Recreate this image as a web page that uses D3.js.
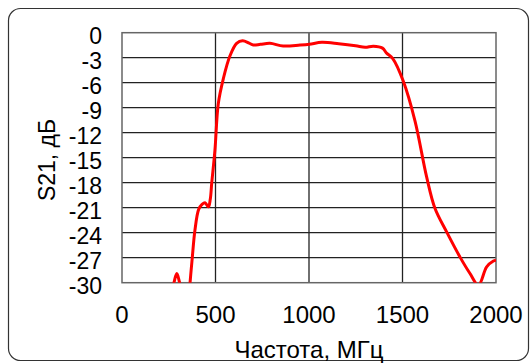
<!DOCTYPE html>
<html>
<head>
<meta charset="utf-8">
<script src="https://cdn.jsdelivr.net/npm/d3@7"></script>
<style>
  html, body { margin: 0; padding: 0; background: #fff; }
  svg { display: block; }
  text { font-family: "Liberation Sans", Arial, sans-serif; fill: #000; }
</style>
</head>
<body>
<svg id="chart" width="531" height="364"></svg>
<script>
// Frequency sweep (MHz) and measured transmission S21 (dB)
const freqMHz = [250, 265, 280, 293, 306, 322, 340, 355, 364, 375, 390, 410, 428, 444, 462, 472, 480,
  497, 515, 542, 577, 613, 645, 680, 702, 740, 791, 862, 952, 1002, 1069, 1159, 1249, 1300, 1344,
  1393, 1415, 1448, 1504, 1567, 1629, 1674, 1736, 1807, 1861, 1906, 1950, 1986, 2000];
const s21dB = [-33, -31.5, -29.8, -28.9, -29.8, -31.5, -34, -33, -30, -27.2, -23.7, -21.2, -20.6, -20.4, -20.9, -20, -18,
  -14.1, -8.5, -5.5, -2.8, -1.28, -0.96, -1.25, -1.48, -1.4, -1.28, -1.6, -1.48, -1.38, -1.16, -1.32, -1.56, -1.75, -1.62,
  -1.85, -2.45, -3.1, -5.8, -10.6, -17.3, -21.1, -23.9, -26.9, -28.9, -30.3, -28.1, -27.4, -27.3];

const xTicks = [0, 500, 1000, 1500, 2000];
const yTicks = [0, -3, -6, -9, -12, -15, -18, -21, -24, -27, -30];
const xTitle = "Частота, МГц";
const yTitle = "S21, дБ";

const svg = d3.select("#chart");
const plot = { left: 122, right: 496, top: 32.7, bottom: 282.7 };

const x = d3.scaleLinear().domain([0, 2000]).range([plot.left, plot.right]);
const y = d3.scaleLinear().domain([-30, 0]).range([plot.bottom, plot.top]);

// outer rounded frame
svg.append("rect")
  .attr("x", 8.5).attr("y", 8.5)
  .attr("width", 520).attr("height", 352)
  .attr("rx", 12).attr("ry", 12)
  .attr("fill", "none").attr("stroke", "#333").attr("stroke-width", 1.2);

// grid
const grid = svg.append("g");
grid.selectAll("line.h").data(yTicks.slice(1, -1)).join("line")
  .attr("x1", plot.left).attr("x2", plot.right)
  .attr("y1", d => y(d)).attr("y2", d => y(d))
  .attr("stroke", "#222").attr("stroke-width", 1.3);
grid.selectAll("line.v").data(xTicks.slice(1, -1)).join("line")
  .attr("y1", plot.top).attr("y2", plot.bottom)
  .attr("x1", d => x(d)).attr("x2", d => x(d))
  .attr("stroke", "#222").attr("stroke-width", 1.3);

// plot border
svg.append("rect")
  .attr("x", plot.left).attr("y", plot.top)
  .attr("width", plot.right - plot.left).attr("height", plot.bottom - plot.top)
  .attr("fill", "none").attr("stroke", "#666").attr("stroke-width", 1.5);

// y tick labels
svg.append("g").selectAll("text").data(yTicks).join("text")
  .attr("x", 102).attr("y", d => y(d) + 3)
  .attr("text-anchor", "end").attr("dominant-baseline", "central")
  .attr("font-size", 23)
  .text(d => d);

// x tick labels
svg.append("g").selectAll("text").data(xTicks).join("text")
  .attr("x", d => x(d)).attr("y", 323)
  .attr("text-anchor", "middle")
  .attr("font-size", 24)
  .text(d => d);

// axis titles
svg.append("text")
  .attr("x", 309).attr("y", 358)
  .attr("text-anchor", "middle").attr("font-size", 24)
  .text(xTitle);
svg.append("text")
  .attr("transform", "translate(47,160) rotate(-90)")
  .attr("text-anchor", "middle").attr("dominant-baseline", "central")
  .attr("font-size", 23)
  .text(yTitle);

// S21 curve, clipped to the plot area
svg.append("clipPath").attr("id", "plotClip")
  .append("rect")
  .attr("x", plot.left).attr("y", plot.top - 2)
  .attr("width", plot.right - plot.left).attr("height", plot.bottom - plot.top + 2);

const line = d3.line()
  .x((d, i) => x(freqMHz[i]))
  .y(d => y(d))
  .curve(d3.curveCatmullRom.alpha(0.5));

svg.append("path")
  .datum(s21dB)
  .attr("clip-path", "url(#plotClip)")
  .attr("d", line)
  .attr("fill", "none")
  .attr("stroke", "#ff0000")
  .attr("stroke-width", 3)
  .attr("stroke-linejoin", "round");
</script>
</body>
</html>
